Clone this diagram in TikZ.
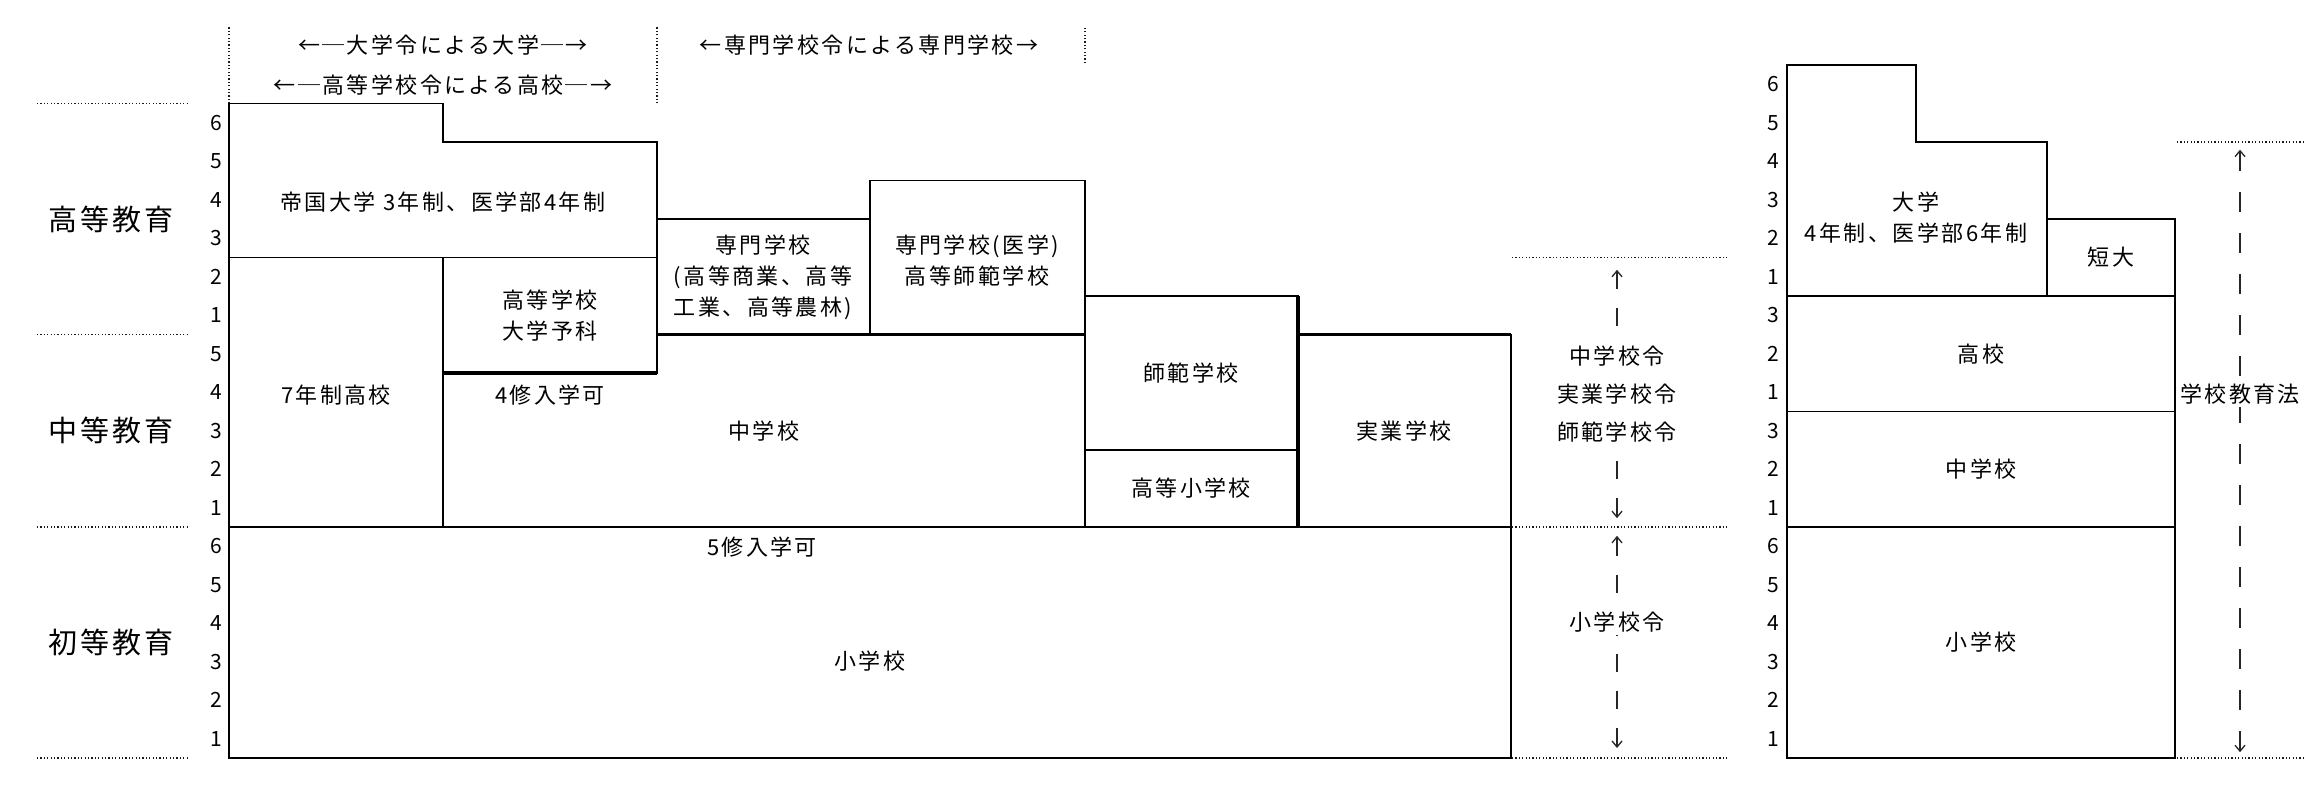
\documentclass[tikz,border=0pt]{standalone}
\usepackage{fontspec}
\setmainfont{Noto Sans CJK JP}[LetterSpace=11]
\usetikzlibrary{arrows.meta}
\tikzset{
  box/.style={draw=black, line width=1.4pt, line join=miter},
  thickline/.style={draw=black, line width=3.4pt},
  dotline/.style={draw=black!90, line width=1.4pt, dash pattern=on 1.2pt off 2.2pt},
  lbl/.style={font=\fontsize{22}{31}\selectfont, align=center, inner sep=0pt},
  yr/.style={font=\fontsize{21}{25}\selectfont, inner sep=0pt},
  cat/.style={font=\fontsize{29}{34}\selectfont, inner sep=0pt},
  law/.style={font=\fontsize{22}{38}\selectfont, align=center, fill=white, inner sep=2pt},
  lawarrow/.style={draw=black!85, line width=1.3pt, dash pattern=on 18pt off 19pt,
    {Straight Barb[length=6pt,width=10pt,line width=1.3pt]}-},
  lawarrowlong/.style={lawarrow, dash pattern=on 20pt off 21pt},
}
\begin{document}
\begin{tikzpicture}[x=1pt,y=38.5pt]
\useasboundingbox (0pt,-42pt) rectangle (2320pt,758pt);

% ---------- left legend ----------
\foreach \L in {0,6,11,17} \draw[dotline] (37,\L) -- (188,\L);
\node[cat] (koto) at (111,14) {高等教育};
\node[cat] (chuto) at (111,8.5) {中等教育};
\node[cat] (shoto) at (111,3) {初等教育};

\foreach \k/\v in {6/16.5,5/15.5,4/14.5,3/13.5,2/12.5,1/11.5}
  \node[yr] (yh\k) at (216,\v) {\k};
\foreach \k/\v in {5/10.5,4/9.5,3/8.5,2/7.5,1/6.5}
  \node[yr] (ym\k) at (216,\v) {\k};
\foreach \k/\v in {6/5.5,5/4.5,4/3.5,3/2.5,2/1.5,1/0.5}
  \node[yr] (yp\k) at (216,\v) {\k};

% ---------- header ----------
\draw[dotline] (229,17) -- (229,19.01);
\draw[dotline] (657,17) -- (657,19.01);
\draw[dotline] (1085,18.05) -- (1085,19.01);
\node[lbl] (h1) at (443,18.52) {←─大学令による大学─→};
\node[lbl] (h2) at (443,17.48) {←─高等学校令による高校─→};
\node[lbl] (h3) at (869,18.52) {←専門学校令による専門学校→};

% ---------- old system boxes ----------
\draw[box] (229,0) rectangle (1511,6);
\draw[box] (229,6) rectangle (443,13);
\draw[box] (229,13) -- (229,17) -- (443,17) -- (443,16) -- (657,16) -- (657,13) -- cycle;
\draw[box] (443,10) rectangle (657,13);
\draw[box] (443,6) -- (443,10) -- (657,10) -- (657,11) -- (1085,11) -- (1085,6);
\draw[box] (657,11) rectangle (870,14);
\draw[box] (870,11) rectangle (1085,15);
\draw[box] (1085,8) rectangle (1298,12);
\draw[box] (1085,6) rectangle (1298,8);
\draw[box] (1298,6) rectangle (1511,11);
\draw[thickline] (443,10) -- (657,10);
\draw[thickline] (657,11) -- (1085,11);
\draw[thickline] (1298,6) -- (1298,12);
\draw[thickline] (1298,11) -- (1511,11);

\node[lbl] (teidai) at (443,14.45) {帝国大学 3年制、医学部4年制};
\node[lbl] (nana) at (336,9.43) {7年制高校};
\node[lbl] (yonshu) at (550,9.43) {4修入学可};
\node[lbl] (koko) at (550,11.5) {高等学校\\大学予科};
\node[lbl] (chu) at (764,8.5) {中学校};
\node[lbl] (senmon) at (763,12.49) {専門学校\\(高等商業、高等\\工業、高等農林)};
\node[lbl] (igaku) at (977,12.92) {専門学校(医学)\\高等師範学校};
\node[lbl] (shihan) at (1191,10) {師範学校};
\node[lbl] (kotosho) at (1191,7) {高等小学校};
\node[lbl] (jitsugyo) at (1404,8.5) {実業学校};
\node[lbl] (goshu) at (762,5.48) {5修入学可};
\node[lbl] (sho) at (870,2.52) {小学校};

% ---------- laws (old) ----------
\foreach \L in {0,6,13} \draw[dotline] (1512,\L) -- (1727,\L);
\node[law] (law1) at (1617,9.45) {中学校令\\実業学校令\\師範学校令};
\coordinate (a1t) at (1617,12.68);
\coordinate (a1b) at (1617,6.23);
\draw[lawarrow] (a1t) -- (law1.north);
\draw[lawarrow] (a1b) -- (law1.south);
\node[law] (law2) at (1617,3.53) {小学校令};
\coordinate (a2t) at (1617,5.77);
\coordinate (a2b) at (1617,0.26);
\draw[lawarrow] (a2t) -- (law2.north);
\draw[lawarrow] (a2b) -- (law2.south);

% ---------- new system ----------
\foreach \k/\v in {6/17.5,5/16.5,4/15.5,3/14.5,2/13.5,1/12.5}
  \node[yr] (nu\k) at (1773,\v) {\k};
\foreach \k/\v in {3/11.5,2/10.5,1/9.5}
  \node[yr] (nh\k) at (1773,\v) {\k};
\foreach \k/\v in {3/8.5,2/7.5,1/6.5}
  \node[yr] (nm\k) at (1773,\v) {\k};
\foreach \k/\v in {6/5.5,5/4.5,4/3.5,3/2.5,2/1.5,1/0.5}
  \node[yr] (np\k) at (1773,\v) {\k};

\draw[box] (1787,0) rectangle (2175,6);
\draw[box] (1787,6) rectangle (2175,9);
\draw[box] (1787,9) rectangle (2175,12);
\draw[box] (1787,12) -- (1787,18) -- (1916,18) -- (1916,16) -- (2047,16) -- (2047,12) -- cycle;
\draw[box] (2047,12) rectangle (2175,14);

\node[lbl] (daigaku) at (1916,14.03) {大学\\4年制、医学部6年制};
\node[lbl] (tandai) at (2111,13) {短大};
\node[lbl] (nkoko) at (1981,10.5) {高校};
\node[lbl] (nchu) at (1981,7.5) {中学校};
\node[lbl] (nsho) at (1981,3) {小学校};

\foreach \L in {0,16} \draw[dotline] (2177,\L) -- (2306,\L);
\node[law] (law3) at (2240,9.45) {学校教育法};
\coordinate (a3t) at (2240,15.8);
\coordinate (a3b) at (2240,0.15);
\draw[lawarrowlong] (a3t) -- (law3.north);
\draw[lawarrowlong] (a3b) -- (law3.south);
\end{tikzpicture}
\end{document}
